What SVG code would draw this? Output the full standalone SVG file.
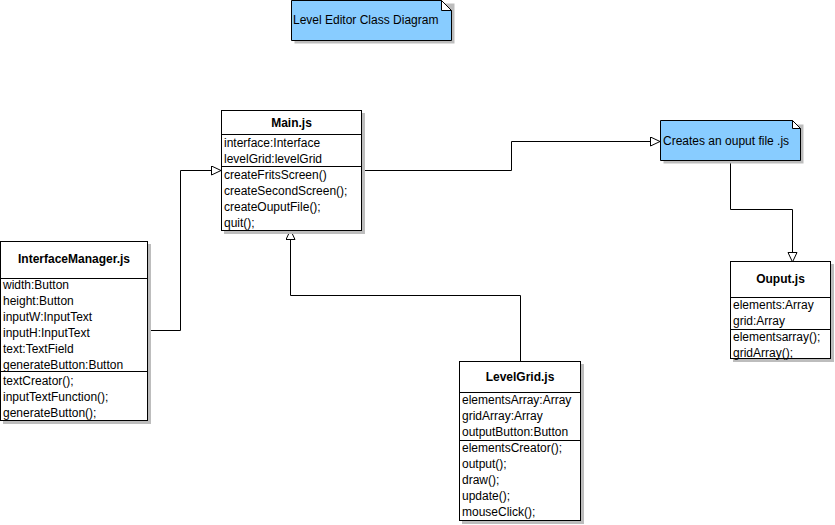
<svg xmlns="http://www.w3.org/2000/svg" width="835" height="525" viewBox="0 0 835 525">
<defs>
<style>
text{font-family:"Liberation Sans",Arial,sans-serif;font-size:12px;fill:#000}
.b{font-weight:bold;text-anchor:middle}
.box{fill:#fff;stroke:#000;stroke-width:1}
.sh{fill:#bdbdbd}
.note{fill:#88ccff;stroke:#000;stroke-width:1}
.fold{fill:#fff;stroke:#000;stroke-width:1}
.ln{stroke:#000;stroke-width:1;fill:none}
.c{stroke:#000;stroke-width:1;fill:none}
</style>
<marker id="tri" markerWidth="12" markerHeight="12" refX="10" refY="5" orient="auto" markerUnits="userSpaceOnUse">
<path d="M0.5,0.5 L10,5 L0.5,9.5 Z" fill="#fff" stroke="#000" stroke-width="1"/>
</marker>
</defs>
<rect width="835" height="525" fill="#fff"/>

<g id="title">
<path class="sh" d="M294.5,3.5 H454.5 V43.5 H294.5 Z"/>
<path class="note" d="M291.5,0.5 H441.5 L451.5,10.5 V40.5 H291.5 Z"/>
<path class="fold" d="M441.5,0.5 V10.5 H451.5 Z"/>
<text x="293" y="24">Level Editor Class Diagram</text>
</g>

<g id="connectors">
<path class="c" d="M147,330.5 H180.5 V170.5 H221" marker-end="url(#tri)"/>
<path class="c" d="M520.5,361 V295.5 H290.5 V230" marker-end="url(#tri)"/>
<path class="c" d="M361,170.5 H511.5 V141.5 H660" marker-end="url(#tri)"/>
<path class="c" d="M730.5,160 V209.5 H792.5 V262" marker-end="url(#tri)"/>
</g>

<g id="main">
<rect class="sh" x="224" y="113" width="141" height="121"/>
<rect class="box" x="221.5" y="110.5" width="140" height="120"/>
<line class="ln" x1="221.5" y1="134.5" x2="361.5" y2="134.5"/>
<line class="ln" x1="221.5" y1="166.5" x2="361.5" y2="166.5"/>
<text class="b" x="291.5" y="127">Main.js</text>
<text x="224" y="147">interface:Interface</text>
<text x="224" y="163">levelGrid:levelGrid</text>
<text x="224" y="179">createFritsScreen()</text>
<text x="224" y="195">createSecondScreen();</text>
<text x="224" y="211">createOuputFile();</text>
<text x="224" y="227">quit();</text>
</g>

<g id="interfaceManager">
<rect class="sh" x="3" y="244" width="148" height="180"/>
<rect class="box" x="0.5" y="241.5" width="147" height="179"/>
<line class="ln" x1="0.5" y1="278.5" x2="147.5" y2="278.5"/>
<line class="ln" x1="0.5" y1="371.5" x2="147.5" y2="371.5"/>
<text class="b" x="74" y="263">InterfaceManager.js</text>
<text x="3" y="289">width:Button</text>
<text x="3" y="305">height:Button</text>
<text x="3" y="321">inputW:InputText</text>
<text x="3" y="337">inputH:InputText</text>
<text x="3" y="353">text:TextField</text>
<text x="3" y="369">generateButton:Button</text>
<text x="3" y="385">textCreator();</text>
<text x="3" y="401">inputTextFunction();</text>
<text x="3" y="417">generateButton();</text>
</g>

<g id="note">
<path class="sh" d="M663.5,124.5 H803.5 V163.5 H663.5 Z"/>
<path class="note" d="M660.5,120.5 H792.5 L800.5,128.5 V160.5 H660.5 Z"/>
<path class="fold" d="M792.5,120.5 V128.5 H800.5 Z"/>
<text x="663" y="145">Creates an ouput file .js</text>
</g>

<g id="ouput">
<rect class="sh" x="733" y="264" width="101" height="98"/>
<rect class="box" x="730.5" y="261.5" width="100" height="97"/>
<line class="ln" x1="730.5" y1="297.5" x2="830.5" y2="297.5"/>
<line class="ln" x1="730.5" y1="329.5" x2="830.5" y2="329.5"/>
<text class="b" x="780.5" y="283">Ouput.js</text>
<text x="733" y="309">elements:Array</text>
<text x="733" y="325">grid:Array</text>
<text x="733" y="341">elementsarray();</text>
<text x="733" y="357">gridArray();</text>
</g>

<g id="levelGrid">
<rect class="sh" x="462" y="364" width="122" height="160"/>
<rect class="box" x="459.5" y="361.5" width="121" height="159"/>
<line class="ln" x1="459.5" y1="392.5" x2="580.5" y2="392.5"/>
<line class="ln" x1="459.5" y1="440.5" x2="580.5" y2="440.5"/>
<text class="b" x="520" y="381">LevelGrid.js</text>
<text x="462" y="404">elementsArray:Array</text>
<text x="462" y="420">gridArray:Array</text>
<text x="462" y="436">outputButton:Button</text>
<text x="462" y="452">elementsCreator();</text>
<text x="462" y="468">output();</text>
<text x="462" y="484">draw();</text>
<text x="462" y="500">update();</text>
<text x="462" y="516">mouseClick();</text>
</g>
</svg>
